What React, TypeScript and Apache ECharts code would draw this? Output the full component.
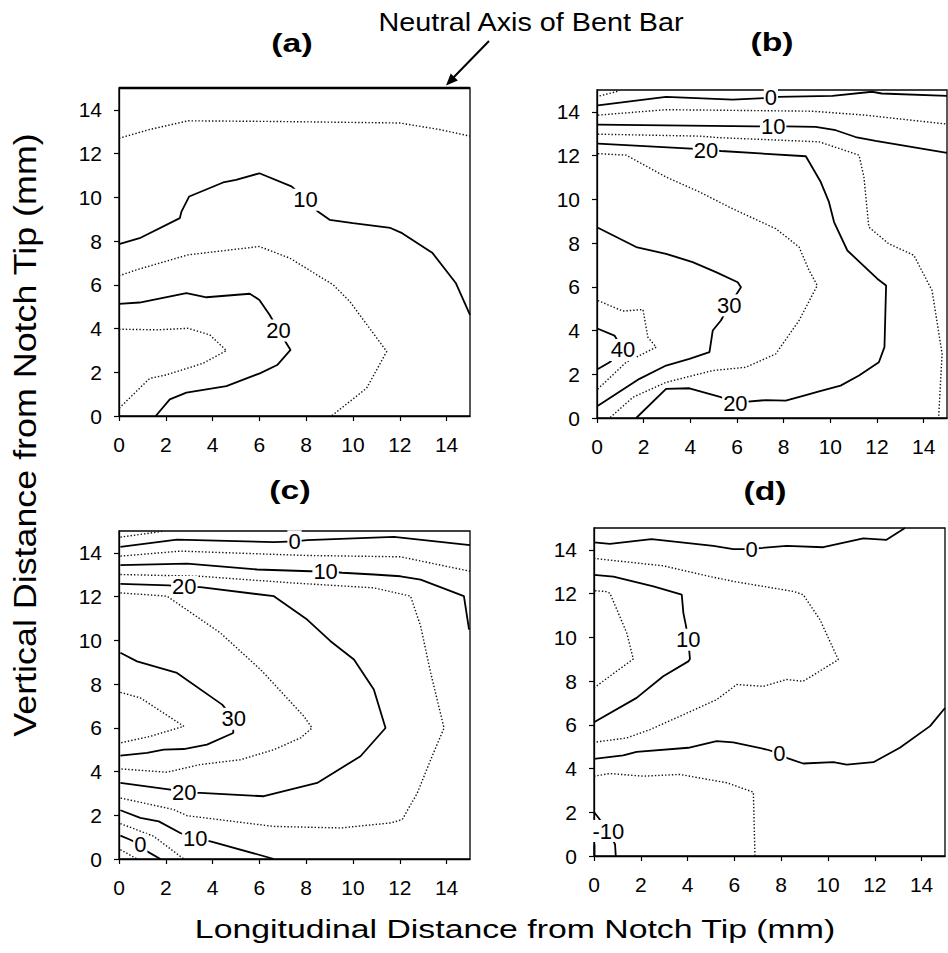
import React, { useEffect, useRef } from "react";
import * as echarts from "echarts";

type P = [number, number];
type L = [number, number, string];

const xTickLabels = [0, 2, 4, 6, 8, 10, 12, 14];
const yTickLabels = [0, 2, 4, 6, 8, 10, 12, 14];
const panelTitles = ["(a)", "(b)", "(c)", "(d)"];

// Panel (a)
const aNeutral: P[] = [[0, 15], [15, 15]];
const aDot1: P[] = [[0, 12.7], [1.3, 13.1], [2.95, 13.5], [6.6, 13.47], [12.0, 13.4], [13.7, 13.1], [15, 12.8]];
const aSolid10: P[] = [[0, 7.86], [0.88, 8.13], [2.6, 9.05], [2.67, 9.35], [3.0, 10.04], [4.45, 10.68], [5.0, 10.8], [6.0, 11.1], [7.37, 10.5], [8.0, 9.9], [8.5, 9.35], [9.0, 8.97], [10.0, 8.82], [11.6, 8.6], [12.1, 8.36], [13.4, 7.45], [14.4, 6.07], [15, 4.62]];
const aDot2: P[] = [[0, 6.41], [0.74, 6.68], [2.95, 7.37], [6.0, 7.75], [7.3, 7.22], [9.15, 6.0], [9.87, 5.23], [11.44, 2.95], [10.58, 1.27], [9.08, 0]];
const aSolid20: P[] = [[0, 5.13], [0.88, 5.19], [2.88, 5.62], [3.74, 5.43], [5.59, 5.59], [6.0, 5.31], [6.44, 4.62], [6.82, 3.91], [7.33, 3.02], [6.76, 2.33], [6.02, 1.95], [4.59, 1.37], [2.88, 1.07], [2.17, 0.76], [1.57, 0]];
const aDot3: P[] = [[0, 3.97], [1.6, 3.94], [2.95, 4.01], [3.88, 3.71], [4.59, 2.99], [3.59, 2.41], [2.02, 1.88], [1.31, 1.72], [0, 0.35]];
const aLabels: L[] = [[7.97, 9.89, "10"], [6.82, 3.91, "20"]];

// Panel (b)
const bDot1: P[] = [[0.11, 14.73], [0.97, 14.96]];
const bSolid0: P[] = [[0.04, 14.3], [2.96, 14.69], [5.81, 14.56], [7.45, 14.64], [7.74, 14.69], [10.09, 14.73], [11.79, 14.92], [12.2, 14.84], [15, 14.73]];
const bDot2: P[] = [[0.04, 13.85], [2.96, 14.1], [9.23, 14.03], [11.5, 13.85], [15, 13.44]];
const bSolid10: P[] = [[0.04, 13.42], [6.81, 13.34], [8.09, 13.34], [9.37, 13.31], [10.23, 13.16], [11.08, 12.85], [11.94, 12.67], [15, 12.12]];
const bDot3: P[] = [[0.04, 12.98], [4.39, 12.89], [5.24, 12.82], [9.52, 12.63], [11.23, 12.02], [11.44, 11.02], [11.65, 8.73], [12.5, 7.97], [13.58, 7.44], [14.36, 5.83], [14.79, 2.93], [14.64, 0]];
const bSolid20: P[] = [[0.04, 12.55], [4.03, 12.32], [5.31, 12.21], [8.95, 11.97], [9.59, 10.79], [9.94, 9.88], [10.16, 8.96], [10.73, 7.66], [12.01, 6.37], [12.39, 6.06], [12.32, 3.24], [12.08, 2.55], [11.23, 1.94], [10.44, 1.48], [9.52, 1.22], [8.95, 1.05], [8.09, 0.79], [7.24, 0.82], [5.95, 0.7], [5.31, 0.95], [3.96, 1.36], [2.96, 1.33], [1.68, 0]];
const bDot4: P[] = [[0.04, 12.09], [1.25, 12.02], [2.96, 11.02], [4.39, 10.34], [5.81, 9.57], [7.66, 8.66], [8.66, 7.82], [9.09, 6.75], [9.44, 6.06], [8.66, 4.46], [7.66, 2.93], [6.38, 2.32], [4.96, 2.17], [2.96, 1.63], [1.54, 0.95], [0.54, 0]];
const bSolid30: P[] = [[0.04, 8.7], [1.68, 7.82], [2.96, 7.51], [4.1, 7.13], [5.1, 6.67], [6.03, 6.21], [6.17, 5.98], [5.67, 5.15], [5.31, 4.46], [4.96, 4.0], [4.82, 3.01], [3.96, 2.7], [2.96, 2.4], [1.82, 1.79], [0.04, 0.56]];
const bDot5: P[] = [[0.04, 5.37], [1.11, 4.89], [1.97, 4.96], [2.18, 3.69], [2.54, 3.24], [1.25, 2.55], [0.04, 1.33]];
const bSolid40: P[] = [[0.04, 4.08], [0.75, 3.77], [1.11, 3.11], [0.54, 2.55], [0.04, 2.24]];
const bLabels: L[] = [[7.45, 14.64, "0"], [7.55, 13.34, "10"], [4.67, 12.24, "20"], [5.67, 5.15, "30"], [1.11, 3.11, "40"], [5.93, 0.68, "20"]];

// Panel (c)
const cDot1: P[] = [[0.06, 14.72], [1.91, 14.99]];
const cSolid0: P[] = [[0.06, 14.27], [2.48, 14.61], [6.62, 14.49], [7.5, 14.53], [8.04, 14.58], [11.75, 14.73], [15, 14.35]];
const cDot2: P[] = [[0.06, 13.85], [2.62, 14.08], [8.04, 13.88], [12.03, 13.82], [15, 13.16]];
const cSolid10: P[] = [[0.06, 13.44], [2.91, 13.51], [5.9, 13.24], [8.18, 13.16], [8.83, 13.16], [9.54, 13.09], [10.89, 13.01], [12.03, 12.93], [12.89, 12.78], [14.74, 12.02], [14.96, 10.49]];
const cDot3: P[] = [[0.06, 13.01], [3.48, 12.93], [7.33, 12.63], [10.89, 12.4], [12.46, 12.02], [12.89, 10.65], [13.32, 8.51], [13.89, 5.99], [13.32, 4.54], [12.75, 3.02], [12.1, 1.8], [11.61, 1.65], [9.47, 1.42], [6.62, 1.49], [2.91, 1.98], [2.34, 2.26], [0.06, 2.79]];
const cSolid20: P[] = [[0.06, 12.58], [2.12, 12.51], [2.79, 12.44], [3.48, 12.43], [6.62, 12.02], [8.04, 10.95], [9.04, 9.96], [10.04, 9.12], [10.89, 7.75], [11.39, 5.99], [10.32, 4.7], [8.47, 3.48], [7.61, 3.25], [6.19, 2.87], [3.48, 3.02], [2.79, 3.02], [2.2, 3.17], [0.06, 3.48]];
const cDot4: P[] = [[0.06, 12.17], [2.05, 12.02], [4.33, 10.34], [6.05, 8.66], [7.9, 6.53], [8.25, 5.99], [7.76, 5.54], [6.62, 5.0], [5.19, 4.54], [3.48, 4.32], [2.05, 3.97], [0.06, 4.12]];
const cSolid30: P[] = [[0.06, 9.43], [0.77, 9.04], [2.48, 8.51], [4.41, 7.06], [4.9, 6.41], [4.88, 5.76], [3.76, 5.23], [2.77, 5.03], [1.91, 5.0], [1.2, 4.85], [0.06, 4.73]];
const cDot5: P[] = [[0.06, 7.62], [0.91, 7.37], [2.77, 6.07], [1.34, 5.61], [0.06, 5.31]];
const cSolid10b: P[] = [[0.06, 2.23], [0.91, 1.88], [1.7, 1.72], [2.62, 1.19], [3.26, 0.92], [3.91, 0.81], [6.62, 0]];
const cDot6: P[] = [[0.06, 1.62], [1.48, 1.04], [2.77, 0]];
const cSolid0b: P[] = [[0.06, 1.07], [0.48, 0.88], [0.91, 0.66], [1.2, 0.35], [1.77, 0]];
const cDot7: P[] = [[0.06, 0.43], [0.77, 0]];
const cLabels: L[] = [[7.5, 14.53, "0"], [8.83, 13.16, "10"], [2.79, 12.44, "20"], [4.9, 6.41, "30"], [2.79, 3.02, "20"], [3.26, 0.92, "10"], [0.91, 0.66, "0"]];

// Panel (d)
const dSolid0: P[] = [[0, 14.34], [0.68, 14.27], [2.46, 14.49], [5.1, 14.18], [5.95, 14.03], [6.74, 14.03], [7.09, 14.08], [8.23, 14.18], [9.8, 14.12], [11.51, 14.53], [12.5, 14.46], [13.29, 15]];
const dDot1: P[] = [[0, 13.61], [2.96, 13.27], [4.96, 12.78], [5.95, 12.56], [8.52, 12.1], [8.94, 11.95], [9.66, 10.8], [10.44, 8.98], [8.94, 7.99], [8.23, 8.07], [7.24, 7.76], [6.1, 7.84], [5.24, 7.15], [3.67, 6.39], [2.39, 5.78], [1.4, 5.4], [0, 5.2]];
const dSolid10: P[] = [[0, 12.86], [0.83, 12.78], [2.54, 12.33], [3.75, 11.95], [3.82, 11.11], [3.92, 10.58], [4.03, 9.89], [4.1, 9.01], [4.03, 8.9], [2.96, 8.22], [1.82, 7.23], [0, 6.12]];
const dDot2: P[] = [[0, 7.69], [1.68, 9.01], [1.4, 10.2], [0.68, 12.02], [0.48, 12.1], [0, 12.13]];
const dSolid0b: P[] = [[0, 4.44], [1.25, 4.6], [1.82, 4.76], [4.03, 4.95], [5.24, 5.25], [5.95, 5.2], [7.38, 4.87], [7.92, 4.69], [8.23, 4.49], [8.94, 4.23], [10.23, 4.29], [10.8, 4.18], [11.94, 4.29], [13.07, 4.95], [14.36, 5.94], [15, 6.77]];
const dDot3: P[] = [[0, 3.65], [0.68, 3.77], [2.11, 3.65], [3.67, 3.73], [5.67, 3.35], [6.81, 2.92], [6.88, 0]];
const dSolidM10: P[] = [[0, 2.01], [0.19, 1.75], [0.61, 1.14], [0.9, 0.53], [0.93, 0]];
const dStub: P[] = [[0.02, 0.53], [0.02, 0]];
const dLabels: L[] = [[6.74, 14.03, "0"], [4.03, 9.89, "10"], [7.92, 4.69, "0"], [0.61, 1.14, "-10"]];

const panels: { solid: P[][]; dotted: P[][]; labels: L[] }[] = [
  { solid: [aSolid10, aSolid20], dotted: [aDot1, aDot2, aDot3], labels: aLabels },
  { solid: [bSolid0, bSolid10, bSolid20, bSolid30, bSolid40], dotted: [bDot1, bDot2, bDot3, bDot4, bDot5], labels: bLabels },
  { solid: [cSolid0, cSolid10, cSolid20, cSolid30, cSolid10b, cSolid0b], dotted: [cDot1, cDot2, cDot3, cDot4, cDot5, cDot6, cDot7], labels: cLabels },
  { solid: [dSolid0, dSolid10, dSolid0b, dSolidM10, dStub], dotted: [dDot1, dDot2, dDot3], labels: dLabels },
];

const FONT = "'Liberation Sans', Arial, Helvetica, sans-serif";

const grids = [
  { left: 119, top: 88, width: 351, height: 328 },
  { left: 597, top: 90, width: 350, height: 328 },
  { left: 119, top: 531, width: 351, height: 328 },
  { left: 594, top: 528, width: 351, height: 328 },
];
const titlePos = [
  [292, 43],
  [772, 42],
  [290, 490],
  [765, 491],
];

export default function App() {
  const ref = useRef<HTMLDivElement>(null);
  useEffect(() => {
    if (!ref.current) return;
    const chart = echarts.init(ref.current, undefined, { renderer: "svg" });
    const axisCommon = (i: number, labels: number[]) => ({
      type: "value" as const,
      gridIndex: i,
      min: 0,
      max: 15,
      interval: 2,
      splitLine: { show: false },
      axisLine: { show: true, lineStyle: { color: "#000", width: 1.3 } },
      axisTick: { show: true, length: 5, lineStyle: { color: "#000", width: 1.2 } },
      axisLabel: {
        color: "#000",
        fontSize: 21,
        fontFamily: FONT,
        showMaxLabel: false,
        formatter: (v: number) => (labels.indexOf(v) >= 0 ? String(v) : ""),
      },
    });
    const xAxis = grids.map((_, i) => {
      const a: any = axisCommon(i, xTickLabels);
      a.axisLabel.margin = 18;
      return a;
    });
    const yAxis = grids.map((_, i) => {
      const a: any = axisCommon(i, yTickLabels);
      a.axisLabel.margin = 17;
      return a;
    });
    const series: any[] = [];
    panels.forEach((p, i) => {
      p.dotted.forEach((d) =>
        series.push({
          type: "line",
          xAxisIndex: i,
          yAxisIndex: i,
          data: d,
          symbol: "none",
          clip: false,
          silent: true,
          lineStyle: { color: "#111", width: 1.4, type: [1.4, 2] },
          z: 2,
        })
      );
      p.solid.forEach((d) =>
        series.push({
          type: "line",
          xAxisIndex: i,
          yAxisIndex: i,
          data: d,
          symbol: "none",
          clip: false,
          silent: true,
          lineStyle: { color: "#000", width: 1.8 },
          z: 3,
        })
      );
      series.push({
        type: "scatter",
        xAxisIndex: i,
        yAxisIndex: i,
        data: p.labels,
        symbol: "circle",
        symbolSize: 0,
        silent: true,
        itemStyle: { color: "#000", opacity: 1 },
        label: {
          show: true,
          position: "inside",
          formatter: (q: any) => String(q.value[2]),
          fontSize: 22,
          fontFamily: FONT,
          color: "#000",
          opacity: 1,
          textBorderWidth: 0,
          backgroundColor: "#fff",
          padding: [0, 1],
        },
        z: 6,
      });
    });
    series.push({
      type: "line",
      xAxisIndex: 0,
      yAxisIndex: 0,
      data: aNeutral,
      symbol: "none",
      clip: false,
      silent: true,
      lineStyle: { color: "#000", width: 2.6 },
      z: 4,
    });

    const graphic: any[] = [
      {
        type: "text",
        x: 531,
        y: 23,
        scaleX: 1.15,
        style: { text: "Neutral Axis of Bent Bar", x: 0, y: 0, font: `25px ${FONT}`, fill: "#000", textAlign: "center", textVerticalAlign: "middle" },
      },
      { type: "line", shape: { x1: 489, y1: 41, x2: 452, y2: 79 }, style: { stroke: "#000", lineWidth: 2 } },
      { type: "polygon", shape: { points: [[446, 85.5], [457.9, 80.4], [450.7, 73.4]] }, style: { fill: "#000" } },
      {
        type: "text",
        x: 25,
        y: 435,
        rotation: Math.PI / 2,
        scaleX: 1.12,
        style: { text: "Vertical Distance from Notch Tip (mm)", x: 0, y: 0, font: `32px ${FONT}`, fill: "#000", textAlign: "center", textVerticalAlign: "middle" },
      },
      {
        type: "text",
        x: 515,
        y: 929,
        scaleX: 1.3,
        style: { text: "Longitudinal Distance from Notch Tip (mm)", x: 0, y: 0, font: `26px ${FONT}`, fill: "#000", textAlign: "center", textVerticalAlign: "middle" },
      },
    ];
    panelTitles.forEach((t, i) =>
      graphic.push({
        type: "text",
        x: titlePos[i][0],
        y: titlePos[i][1],
        scaleX: 1.3,
        style: { text: t, x: 0, y: 0, font: `bold 26px ${FONT}`, fill: "#000", textAlign: "center", textVerticalAlign: "middle" },
      })
    );

    chart.setOption({
      animation: false,
      backgroundColor: "#fff",
      grid: grids.map((g) => ({ ...g, show: true, borderColor: "#000", borderWidth: 1.3, backgroundColor: "transparent" })),
      xAxis,
      yAxis,
      series,
      graphic,
    });
    return () => chart.dispose();
  }, []);
  return <div ref={ref} style={{ position: "fixed", left: 0, top: 0, width: 948, height: 953 }} />;
}
